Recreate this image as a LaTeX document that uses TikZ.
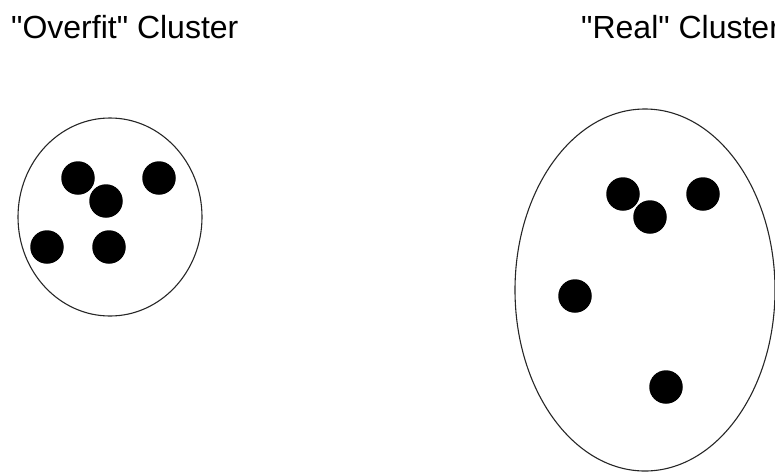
\documentclass[tikz,border=0pt]{standalone}
\usepackage{fontspec}
\setmainfont{Liberation Sans}
\begin{document}
\begin{tikzpicture}[x=1pt,y=-1pt,
  cluster/.style={draw=black!85,line width=1.1pt},
  pt/.style={circle,fill=black,inner sep=0pt,minimum size=33.5pt},
  lbl/.style={anchor=base west,inner sep=0pt,font=\fontsize{32}{38}\selectfont}]
\useasboundingbox (0,0) rectangle (775,472);
\begin{scope}
\clip (0,0) rectangle (775,472);
\draw[cluster] (110,217) ellipse [x radius=92,y radius=99];
\draw[cluster] (645,290) ellipse [x radius=130,y radius=181];
\node[lbl] (l1) at (11,38) {\textquotedbl Overfit\textquotedbl{} Cluster};
\node[lbl] (l2) at (581,38) {\textquotedbl Real\textquotedbl{} Cluster};
\node[pt] (a1) at (78,178) {};
\node[pt] (a2) at (106,201) {};
\node[pt] (a3) at (159,178) {};
\node[pt] (a4) at (47,247) {};
\node[pt] (a5) at (109,247) {};
\node[pt] (b1) at (623,194) {};
\node[pt] (b2) at (650,217) {};
\node[pt] (b3) at (703,194) {};
\node[pt] (b4) at (575,296) {};
\node[pt] (b5) at (666,387) {};
\end{scope}
\end{tikzpicture}
\end{document}
